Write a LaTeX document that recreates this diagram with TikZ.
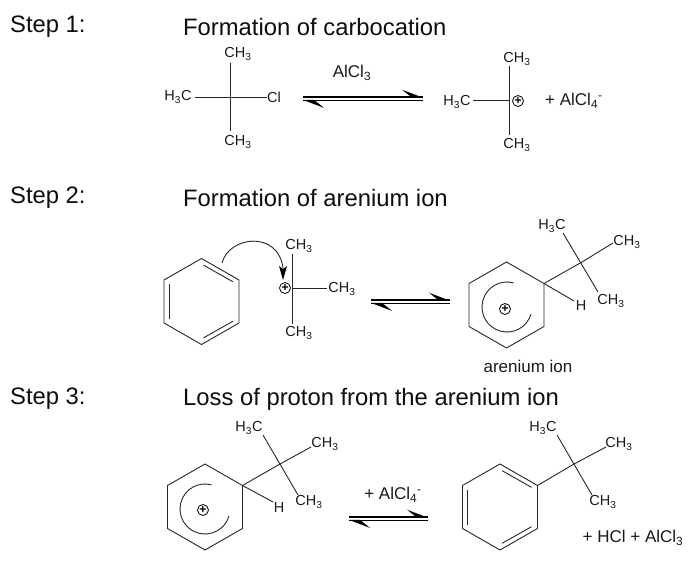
\documentclass[tikz,border=0pt]{standalone}
\usepackage{fontspec}
\setmainfont{Liberation Sans}
\usetikzlibrary{calc}
\newcommand{\sbs}[1]{\textsubscript{#1}}
\newcommand{\sps}[1]{\textsuperscript{#1}}
\tikzset{
  atomlbl/.style={font=\fontsize{14.5}{16}\selectfont,inner sep=0pt,text=black!90},
  textlbl/.style={font=\fontsize{17}{19}\selectfont,inner sep=0pt,text=black!90},
  heading/.style={font=\fontsize{23.8}{26}\selectfont,inner sep=0pt,anchor=west,text=black!95},
  bond/.style={draw=black!85,line width=0.9pt},
  eqline/.style={draw=black,line width=1.3pt},
  barb/.style={fill=black,draw=none},
  plusnode/.style={circle,draw=black,line width=0.8pt,minimum size=11pt,inner sep=0pt,font=\fontsize{12}{12}\selectfont\bfseries},
  curly/.style={draw=black!85,line width=0.9pt},
}
% equilibrium arrow: #1 left x, #2 right x, #3 y of upper line, #4 name
\newcommand{\eqarrow}[4]{%
  \coordinate (#4ul) at (#1,#3);
  \coordinate (#4ur) at (#2,#3);
  \coordinate (#4ll) at (#1,#3+3.6);
  \coordinate (#4lr) at (#2,#3+3.6);
  \draw[eqline] (#4ul) -- (#4ur);
  \draw[eqline] (#4ll) -- (#4lr);
  \fill[barb] ($(#4ur)+(0,0.7)$) -- ++(-21,-8) -- ++(10,8) -- cycle;
  \fill[barb] ($(#4ll)+(0,-0.7)$) -- ++(21,8) -- ++(-10,-8) -- cycle;
}
% six-ring: #1 prefix, #2 centre x, #3 centre y
\newcommand{\ringat}[3]{%
  \coordinate (#1a) at (#2,#3-43);
  \coordinate (#1b) at (#2+37.5,#3-21.5);
  \coordinate (#1c) at (#2+37.5,#3+21.5);
  \coordinate (#1d) at (#2,#3+43);
  \coordinate (#1e) at (#2-37.5,#3+21.5);
  \coordinate (#1f) at (#2-37.5,#3-21.5);
  \draw[bond] (#1a)--(#1b)--(#1c)--(#1d)--(#1e)--(#1f)--cycle;
}
% the inner lines of the three double bonds
\newcommand{\kekule}[1]{%
  \draw[bond] ($(#1a)!0.1!(#1b)+(-1.7,4.5)$) -- ($(#1a)!0.9!(#1b)+(-2.2,4)$);
  \draw[bond] ($(#1e)+(5,-4)$) -- ($(#1f)+(5,4)$);
  \draw[bond] ($(#1d)!0.1!(#1c)+(-1.7,-4.5)$) -- ($(#1d)!0.9!(#1c)+(-2.2,-4)$);
}
\begin{document}
\begin{tikzpicture}[x=1pt,y=-1pt]
\useasboundingbox (0,0) rectangle (693,561);
% headings
\node[heading] (s1) at (10,27) {Step 1:};
\node[heading] (t1) at (183,27) {Formation of carbocation};
\node[heading] (s2) at (10,198) {Step 2:};
\node[heading] (t2) at (183,198) {Formation of arenium ion};
\node[heading] (s3) at (10,399) {Step 3:};
\node[heading] (t3) at (183,399) {Loss of proton from the arenium ion};

% step 1 reactant
\coordinate (c1) at (230.5,97.5);
\node[atomlbl] (c1t) at (238,54) {CH\sbs{3}};
\node[atomlbl] (c1b) at (238,142) {CH\sbs{3}};
\node[atomlbl] (c1l) at (178,97) {H\sbs{3}C};
\node[atomlbl] (c1r) at (274,97) {Cl};
\coordinate (c1tb) at (230.5,63);
\coordinate (c1bb) at (230.5,131);
\coordinate (c1lb) at (195,97.5);
\coordinate (c1rb) at (267,97.5);
\draw[bond] (c1tb) -- (c1bb);
\draw[bond] (c1lb) -- (c1rb);
\node[textlbl] (al1) at (352,73) {AlCl\sbs{3}};
\eqarrow{303}{423}{97}{eqa}

% step 1 product
\coordinate (c2) at (509,100.5);
\node[atomlbl] (c2t) at (517,59) {CH\sbs{3}};
\node[atomlbl] (c2b) at (517,145) {CH\sbs{3}};
\node[atomlbl] (c2l) at (457,102) {H\sbs{3}C};
\coordinate (c2tb) at (509,66);
\coordinate (c2bb) at (509,135);
\coordinate (c2lb) at (473,100.5);
\draw[bond] (c2tb) -- (c2bb);
\draw[bond] (c2lb) -- (c2);
\node[plusnode] (p1) at (518,101) {+};
\node[textlbl,anchor=west] (al2) at (545,101) {+ AlCl\sbs{4}\sps{-}};

% step 2 benzene
\ringat{r1}{201.5}{301.5}
\kekule{r1}
% step 2 cation
\coordinate (c3) at (292,288);
\node[atomlbl] (c3t) at (299,246) {CH\sbs{3}};
\node[atomlbl] (c3b) at (299,333) {CH\sbs{3}};
\node[atomlbl] (c3r) at (342,289) {CH\sbs{3}};
\coordinate (c3tb) at (292,254);
\coordinate (c3bb) at (292,324);
\coordinate (c3rb) at (327,288);
\draw[bond] (c3tb) -- (c3bb);
\draw[bond] (c3) -- (c3rb);
\node[plusnode] (p2) at (285,288) {+};
\coordinate (ca) at (222,263);
\coordinate (cb) at (283,280);
\coordinate (cc) at (283,268);
\draw[curly] (ca) .. controls (229,236) and (278,230) .. (cc);
\fill (cb) -- (279,266) -- (283,269) -- (287,266) -- cycle;
\eqarrow{371}{450}{300}{eqb}

% step 2 arenium
\ringat{r2}{506.5}{305}
\coordinate (q2) at (582,262);
\coordinate (q2r) at (613,243);
\coordinate (q2u) at (563,233);
\coordinate (q2d) at (598,292);
\coordinate (q2h) at (574,301);
\draw[bond] (r2b) -- (q2) -- (q2r);
\draw[bond] (q2u) -- (q2d);
\draw[bond] (r2b) -- (q2h);
\node[atomlbl] (a1) at (552,226) {H\sbs{3}C};
\node[atomlbl] (a2) at (627,242) {CH\sbs{3}};
\node[atomlbl] (a3) at (611,301) {CH\sbs{3}};
\node[atomlbl] (a4) at (581,306) {H};
\node[plusnode] (p3) at (505,309) {+};
\coordinate (arc2) at ($(507,307)+(75:25 and -25)$);
\draw[curly] (arc2) arc[start angle=-75,end angle=-343,radius=25];
\node[textlbl] (aion) at (528,366) {arenium ion};

% step 3 arenium
\ringat{r3}{205}{507}
\coordinate (q3) at (280,464);
\coordinate (q3r) at (311,447);
\coordinate (q3u) at (263,435);
\coordinate (q3d) at (298,495);
\coordinate (q3h) at (273,502);
\draw[bond] (r3b) -- (q3) -- (q3r);
\draw[bond] (q3u) -- (q3d);
\draw[bond] (r3b) -- (q3h);
\node[atomlbl] (b1) at (249,428) {H\sbs{3}C};
\node[atomlbl] (b2) at (325,444) {CH\sbs{3}};
\node[atomlbl] (b3) at (309,502) {CH\sbs{3}};
\node[atomlbl] (b4) at (279,508) {H};
\node[plusnode] (p4) at (203,510) {+};
\coordinate (arc3) at ($(205,509)+(75:25 and -25)$);
\draw[curly] (arc3) arc[start angle=-75,end angle=-343,radius=25];
\node[textlbl] (al3) at (393,495) {+ AlCl\sbs{4}\sps{-}};
\eqarrow{349}{428}{517}{eqc}

% step 3 product
\ringat{r4}{500}{507}
\kekule{r4}
\coordinate (q4) at (574,464);
\coordinate (q4r) at (606,447);
\coordinate (q4u) at (557,435);
\coordinate (q4d) at (592,495);
\draw[bond] (r4b) -- (q4) -- (q4r);
\draw[bond] (q4u) -- (q4d);
\node[atomlbl] (d1) at (543,428) {H\sbs{3}C};
\node[atomlbl] (d2) at (619,444) {CH\sbs{3}};
\node[atomlbl] (d3) at (603,502) {CH\sbs{3}};
\node[textlbl] (hcl) at (633,538) {+ HCl + AlCl\sbs{3}};
\end{tikzpicture}
\end{document}
